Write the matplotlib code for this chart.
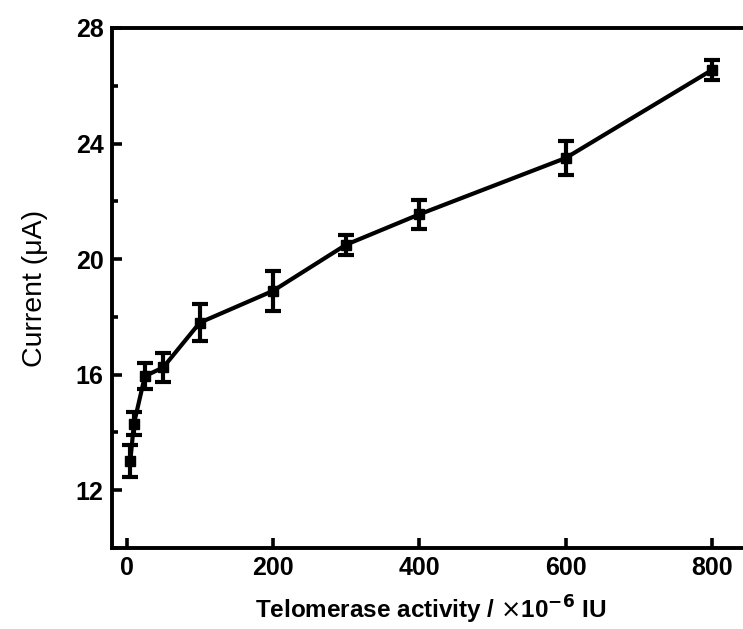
import matplotlib.pyplot as plt
from matplotlib.ticker import MultipleLocator

plt.rcParams['font.family'] = ['Liberation Sans', 'DejaVu Sans']

# telomerase activity (x10^-6 IU), current (uA), error (uA)
activity = [5, 10, 25, 50, 100, 200, 300, 400, 600, 800]
current = [13.0, 14.3, 15.95, 16.25, 17.8, 18.9, 20.5, 21.55, 23.5, 26.55]
error = [0.55, 0.4, 0.45, 0.5, 0.65, 0.7, 0.35, 0.5, 0.58, 0.35]

fig = plt.figure(figsize=(7.43, 6.29), dpi=100)
ax = fig.add_axes([0.1507, 0.1288, 0.857, 0.8267])

ax.errorbar(activity, current, yerr=error, color='black', lw=3,
            marker='s', ms=7, elinewidth=3, capsize=6, capthick=3)

ax.set_xlim(-20, 850)
ax.set_ylim(10, 28)
ax.xaxis.set_major_locator(MultipleLocator(200))
ax.yaxis.set_major_locator(MultipleLocator(4))
ax.yaxis.set_minor_locator(MultipleLocator(2))

for s in ax.spines.values():
    s.set_linewidth(2.8)
ax.tick_params(which='major', direction='in', length=7, width=2.6,
               labelsize=18, pad=6)
ax.tick_params(which='minor', direction='in', length=4, width=2.6)
ax.tick_params(axis='x', which='minor', length=0)
for lab in ax.get_xticklabels() + ax.get_yticklabels():
    lab.set_fontweight('bold')

ax.set_xlabel(r'Telomerase activity / $\times$10$^{\mathbf{-6}}$ IU',
              fontsize=17.5, fontweight='bold', labelpad=10)
ax.set_ylabel('Current (\u03bcA)', fontsize=20.5, labelpad=20)

fig.savefig('out.png', dpi=100)
